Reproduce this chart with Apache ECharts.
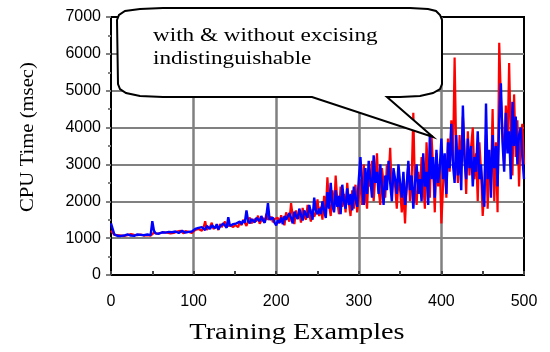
<!DOCTYPE html>
<html>
<head>
<meta charset="utf-8">
<script src="https://cdn.jsdelivr.net/npm/echarts@6/dist/echarts.min.js"></script>
<style>
  html, body { margin: 0; padding: 0; background: #fff; }
  #chart { width: 550px; height: 352px; }
</style>
</head>
<body>
<div id="chart"></div>
<script>
// one value every 2 training examples (x = 0, 2, 4 ... 500)
const step = 2
const yTicks = [0, 1000, 2000, 3000, 4000, 5000, 6000, 7000]
const xTicks = [0, 100, 200, 300, 400, 500]

// red
const withExcising = [
  1200,1150,1090,1060,1080,1050,1070,1090,1060,1100,1080,1060,1110,1070,1090,1120,1080,1060,1100,1090,1070,1110,1080,1100,1070,1090,
  1150,1180,1120,1100,1140,1130,1160,1110,1150,1200,1130,1170,1140,1120,1180,1150,1200,1160,1130,1190,1150,1170,1210,1140,1180,
  1220,1180,1250,1300,1200,1280,1460,1230,1260,1310,1420,1250,1290,1340,1220,1380,1300,1260,1450,1320,1280,1350,1400,1300,1360,
  1380,1300,1450,1350,1500,1420,1330,1480,1560,1400,1370,1520,1450,1610,1390,1480,1550,1420,1660,1500,1450,1580,1430,1520,1480,
  1550,1400,1620,1480,1350,1700,1560,1450,1950,1600,1380,1750,1520,1680,1420,1820,1600,1500,1900,1650,1450,1780,1580,1700,2050,
  1600,1850,1500,2150,1700,2650,1900,1600,2300,1750,2700,2000,1650,2400,1850,2200,1700,2500,1950,1600,2300,1800,2450,1700,2100,
  2600,1900,3000,2200,1800,2800,2400,3100,2000,2700,3300,2300,1900,2900,2500,2100,3000,2600,3450,2200,2800,2400,1800,2600,2300,
  1700,2200,1400,2500,3000,2000,2600,4400,2300,1900,2800,2200,3200,2500,1800,3600,2700,2100,3800,2900,1700,3300,2400,3000,1400,
  2400,3200,2100,3700,2800,4200,3100,5900,3300,2500,3800,2900,4300,3400,2200,3900,2700,3500,4000,2600,3300,2000,3600,2800,1600,
  2300,3800,1800,3100,2600,4500,2000,3600,1700,6300,4800,3900,3000,4600,3400,5750,3700,2700,4900,3200,4200,2400,3800,4100,3000
]

// blue
const withoutExcising = [
  1400,1250,1100,1070,1060,1080,1060,1090,1070,1060,1100,1080,1070,1090,1060,1080,1100,1070,1090,1060,1080,1070,1100,1090,1080,1460,
  1200,1130,1150,1120,1140,1160,1130,1150,1120,1170,1140,1160,1130,1180,1150,1140,1170,1200,1160,1150,1190,1170,1220,1180,1200,
  1250,1200,1280,1230,1300,1260,1220,1330,1280,1250,1350,1300,1270,1380,1240,1320,1290,1400,1340,1280,1570,1330,1300,1380,1350,
  1400,1350,1450,1380,1480,1420,1750,1460,1400,1520,1470,1430,1550,1500,1460,1600,1480,1420,1580,1950,1500,1450,1560,1420,1350,
  1480,1420,1560,1380,1600,1500,1450,1680,1550,1400,1720,1600,1520,1800,1620,1480,1750,1650,1550,1900,1700,1500,2100,1750,1650,
  1800,1650,2000,1750,1550,2250,1800,2500,1900,1700,2300,1850,2150,1650,2450,2000,1800,2350,1900,2200,1750,2400,2050,1850,2600,
  3200,2400,1900,2900,2200,3100,2600,2100,3250,2500,2800,2200,3000,2400,1900,2700,2300,3100,2500,2000,2900,2600,2200,3000,2500,
  2100,2800,1900,2400,3100,2300,2700,1800,2500,3000,2200,2600,2000,3300,2400,2800,1900,3800,2600,3200,2100,3400,2500,2900,3700,
  2600,3300,2200,3600,2900,4100,3000,2500,3800,2700,3400,2300,4600,3100,2600,3700,2900,3500,2400,3200,2800,3900,2600,3000,2200,
  1850,4650,2600,3400,2100,3800,2900,3500,2400,4200,5200,3600,2800,4400,3300,3900,2600,4700,3500,4300,3000,3800,4000,3200,2600
]

function toPairs(arr) {
  return arr.map(function (v, i) { return [i * step, v] })
}

const chart = echarts.init(document.getElementById('chart'))

// outline of the callout bubble (pixels)
const bubble = [
  [117, 20], [119, 15], [125, 11], [140, 9], [163, 8],
  [410, 8], [428, 9], [436, 11], [440, 15], [442, 20],
  [442, 84], [440, 89], [433, 93], [420, 96], [400, 97], [387, 97],
  [433, 137],
  [312, 97], [163, 97], [140, 96], [126, 93], [120, 89], [118, 84]
]

const option = {
  animation: false,
  backgroundColor: '#fff',
  grid: {
    left: 111,
    right: 26,
    top: 17,
    bottom: 77,
    show: true,
    borderColor: '#000',
    borderWidth: 2
  },
  xAxis: {
    type: 'value',
    min: xTicks[0],
    max: xTicks[xTicks.length - 1],
    interval: 100,
    axisLine: { show: true, lineStyle: { color: '#000', width: 2 } },
    axisTick: { show: true, inside: true, length: 4, lineStyle: { color: '#444', width: 2 } },
    minorTick: { show: true, splitNumber: 2, length: 4, lineStyle: { color: '#444', width: 2 } },
    splitLine: { show: true, showMinLine: false, showMaxLine: false, lineStyle: { color: '#808080', width: 2.5 } },
    axisLabel: {
      color: '#000',
      fontFamily: 'Liberation Sans, Arial',
      fontSize: 16,
      margin: 19,
      formatter: function (v) { return String(v) }
    }
  },
  yAxis: {
    type: 'value',
    min: yTicks[0],
    max: yTicks[yTicks.length - 1],
    interval: 1000,
    axisLine: { show: true, lineStyle: { color: '#000', width: 2 } },
    axisTick: { show: true, length: 5, lineStyle: { color: '#808080', width: 2 } },
    minorTick: { show: true, splitNumber: 2, length: 3, lineStyle: { color: '#808080', width: 2 } },
    splitLine: { show: true, showMinLine: false, showMaxLine: false, lineStyle: { color: '#808080', width: 2 } },
    axisLabel: {
      color: '#000',
      fontFamily: 'Liberation Sans, Arial',
      fontSize: 16,
      margin: 10,
      formatter: function (v) { return String(v) }
    }
  },
  series: [
    {
      name: 'with excising',
      type: 'line',
      data: toPairs(withExcising),
      showSymbol: false,
      lineStyle: { color: '#ff0000', width: 2.2 },
      z: 2
    },
    {
      name: 'without excising',
      type: 'line',
      data: toPairs(withoutExcising),
      showSymbol: false,
      lineStyle: { color: '#0000ff', width: 2.4 },
      z: 3
    }
  ],
  graphic: [
    {
      type: 'polygon',
      z: 100,
      shape: { points: bubble },
      style: { fill: '#fff', stroke: '#000', lineWidth: 2 }
    },
    {
      type: 'text',
      z: 101,
      x: 153,
      y: 25,
      scaleX: 1.22,
      style: {
        text: 'with & without excising\nindistinguishable',
        font: '19px "Liberation Serif", "Times New Roman", serif',
        fill: '#000',
        lineHeight: 23
      }
    },
    {
      type: 'text',
      z: 101,
      x: 297,
      y: 333,
      scaleX: 1.18,
      style: {
        text: 'Training Examples',
        font: '24px "Liberation Serif", "Times New Roman", serif',
        fill: '#000',
        align: 'center',
        verticalAlign: 'middle'
      }
    },
    {
      type: 'text',
      z: 101,
      x: 28,
      y: 137,
      rotation: Math.PI / 2,
      scaleX: 1.15,
      style: {
        text: 'CPU Time (msec)',
        font: '18px "Liberation Serif", "Times New Roman", serif',
        fill: '#000',
        align: 'center',
        verticalAlign: 'middle'
      }
    }
  ]
}

chart.setOption(option)
</script>
</body>
</html>
